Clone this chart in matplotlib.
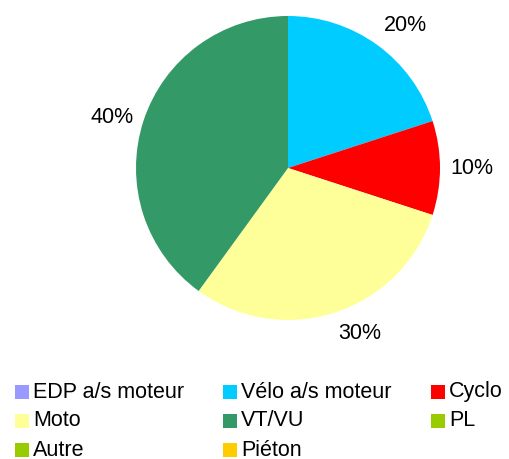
import matplotlib
matplotlib.use("Agg")
import matplotlib.pyplot as plt
import numpy as np
from matplotlib.patches import Rectangle

plt.rcParams['font.family'] = ['Liberation Sans', 'DejaVu Sans']

categories = ["EDP a/s moteur", "Vélo a/s moteur", "Cyclo", "Moto", "VT/VU", "PL", "Autre", "Piéton"]
values = [0, 20, 10, 30, 40, 0, 0, 0]
colors = ["#9999ff", "#00ccff", "#ff0000", "#ffff99", "#339966", "#99cc00", "#99cc00", "#ffcc00"]

W, H = 510, 459
FS = 15.5
fig = plt.figure(figsize=(W / 100, H / 100), dpi=100)
cx, cy, r = 288, 168, 152
ax = fig.add_axes([(cx - r) / W, (H - cy - r) / H, 2 * r / W, 2 * r / H])
wedges, _ = ax.pie(values, colors=colors, startangle=90, counterclock=False, radius=1,
                   wedgeprops=dict(linewidth=0))
total = sum(values)
for w, v in zip(wedges, values):
    if v <= 0:
        continue
    ang = np.deg2rad((w.theta1 + w.theta2) / 2)
    c, s = np.cos(ang), np.sin(ang)
    d = 1.07
    ha = 'left' if c > 0.2 else ('right' if c < -0.2 else 'center')
    va = 'bottom' if s > 0.35 else ('top' if s < -0.35 else 'center')
    ax.text(d * c, d * s, f"{100 * v / total:.0f}%", ha=ha, va=va, fontsize=FS)
ax.set_xlim(-1, 1)
ax.set_ylim(-1, 1)
ax.set_aspect('equal')
ax.axis('off')

col_x = [15, 223, 431]
row_y = [392, 421, 450]
sq = 14
for i, (cat, col) in enumerate(zip(categories, colors)):
    x = col_x[i % 3]
    y = row_y[i // 3]
    fig.patches.append(Rectangle((x / W, (H - y - sq / 2) / H), sq / W, sq / H,
                                 transform=fig.transFigure, facecolor=col, edgecolor='none'))
    fig.text((x + sq + 4) / W, (H - y) / H, cat, fontsize=FS, va='center', ha='left')

fig.savefig("out.png", dpi=100, facecolor='white')
